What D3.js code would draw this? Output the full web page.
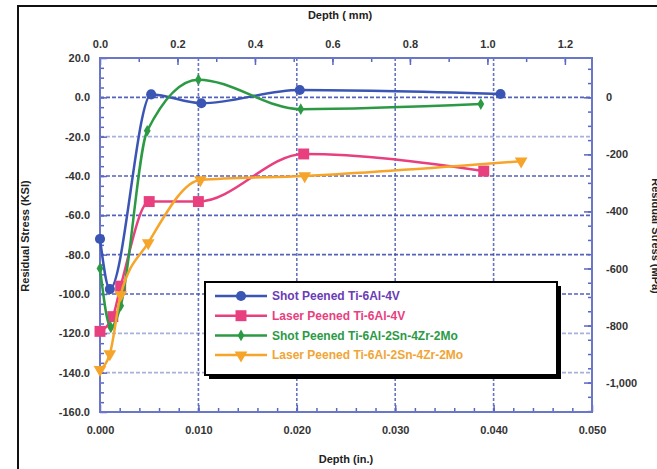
<!DOCTYPE html>
<html lang="en">
<head>
<meta charset="utf-8">
<title>Residual Stress vs Depth</title>
<style>
  body { margin: 0; background: #fff; }
  svg text { font-family: "Liberation Sans", Arial, sans-serif; font-weight: bold; }
  .axis text { font-size: 11px; fill: #333; }
  .axis line { stroke: #5a66c0; stroke-width: 1.5; }
  .axis path { display: none; }
</style>
</head>
<body>
<div id="chart"></div>
<script src="https://d3js.org/d3.v7.min.js"></script>
<script>
// depth (in.) and residual stress (ksi)
var seriesNames = ["Shot Peened Ti-6Al-4V", "Laser Peened Ti-6Al-4V",
                   "Shot Peened Ti-6Al-2Sn-4Zr-2Mo", "Laser Peened Ti-6Al-2Sn-4Zr-2Mo"];
var shotTi64Depth  = [0, 0.001, 0.0052, 0.0103, 0.0203, 0.0407];
var shotTi64Stress = [-72, -97.5, 1.5, -3, 3.7, 1.7];
var laserTi64Depth  = [0, 0.0013, 0.0021, 0.005, 0.010, 0.0207, 0.039];
var laserTi64Stress = [-119, -111.5, -96, -53, -53, -28.8, -37.5];
var shotTi6242Depth  = [0, 0.0011, 0.0021, 0.0048, 0.010, 0.0204, 0.0387];
var shotTi6242Stress = [-87, -117, -106, -17, 9, -6, -3.4];
var laserTi6242Depth  = [0, 0.001, 0.0021, 0.0049, 0.0102, 0.0208, 0.0428];
var laserTi6242Stress = [-138.5, -130.5, -100.5, -74, -42, -40, -32.5];

var bottomTicks = [0, 0.01, 0.02, 0.03, 0.04, 0.05];
var topTicks = [0, 0.2, 0.4, 0.6, 0.8, 1.0, 1.2];
var leftTicks = [-160, -140, -120, -100, -80, -60, -40, -20, 0, 20];
var rightTicks = [-1000, -800, -600, -400, -200, 0];

var colors = ["#3a55b4", "#e8407f", "#2c9a45", "#f6a52b"];
var textColors = ["#6a3cb6", "#e8407f", "#2c9a45", "#f0a535"];
var symbols = [d3.symbolCircle, d3.symbolSquare, d3.symbolDiamond, d3.symbolTriangle];
var symbolSizes = [80, 120, 40, 70];

var series = [
  { depth: shotTi64Depth, stress: shotTi64Stress },
  { depth: laserTi64Depth, stress: laserTi64Stress },
  { depth: shotTi6242Depth, stress: shotTi6242Stress },
  { depth: laserTi6242Depth, stress: laserTi6242Stress }
].map(function(s, i) {
  return { name: seriesNames[i], i: i,
           values: s.depth.map(function(d, k) { return { x: d, y: s.stress[k] }; }) };
});

var W = 657, H = 469;
var margin = { left: 100, right: 65, top: 58, bottom: 57 };
var KSI_TO_MPA = 6.895, IN_TO_MM = 25.4;

var svg = d3.select("#chart").append("svg").attr("width", W).attr("height", H);

// outer frame
svg.append("rect").attr("x", 18).attr("y", 6).attr("width", 700).attr("height", 500)
  .attr("fill", "none").attr("stroke", "#111").attr("stroke-width", 2);

var x = d3.scaleLinear().domain([0, 0.05]).range([margin.left, W - margin.right]);
var y = d3.scaleLinear().domain([-160, 20]).range([H - margin.bottom, margin.top]);
var xmm = d3.scaleLinear().domain([0, 0.05 * IN_TO_MM]).range(x.range());
var ympa = d3.scaleLinear().domain([-160 * KSI_TO_MPA, 20 * KSI_TO_MPA]).range(y.range());

var x0 = x.range()[0], x1 = x.range()[1], yb = y.range()[0], yt = y.range()[1];

// grid
var lightGrid = [-20, -120, -140];
svg.append("g").selectAll("line").data(leftTicks.filter(function(d) { return d > -160 && d < 20; }))
  .enter().append("line")
    .attr("x1", x0).attr("x2", x1)
    .attr("y1", function(d) { return y(d); }).attr("y2", function(d) { return y(d); })
    .attr("stroke", "#4152b0")
    .attr("stroke-opacity", function(d) { return lightGrid.indexOf(d) >= 0 ? 0.45 : 0.9; })
    .attr("stroke-width", 1.6).attr("stroke-dasharray", "4,2");
svg.append("g").selectAll("line").data(bottomTicks.slice(1, -1))
  .enter().append("line")
    .attr("x1", function(d) { return x(d); }).attr("x2", function(d) { return x(d); })
    .attr("y1", yt).attr("y2", yb)
    .attr("stroke", "#4152b0").attr("stroke-opacity", 0.8)
    .attr("stroke-width", 1.6).attr("stroke-dasharray", "3,2");

// axes
function fmtMinus(s) { return s.replace("\u2212", "-"); }

svg.append("g").attr("class", "axis").attr("transform", "translate(" + x0 + ",0)")
  .call(d3.axisLeft(y).tickValues(leftTicks).tickSizeInner(-7).tickSizeOuter(0).tickPadding(10)
    .tickFormat(function(d) { return d.toFixed(1); }));
svg.append("g").attr("class", "axis").attr("transform", "translate(" + x0 + ",0)")
  .call(d3.axisLeft(y).tickValues(d3.range(-155, 20, 5)).tickSizeInner(-4).tickSizeOuter(0).tickFormat(""));

svg.append("g").attr("class", "axis").attr("transform", "translate(0," + yb + ")")
  .call(d3.axisBottom(x).tickValues(bottomTicks).tickSizeInner(-7).tickSizeOuter(0).tickPadding(14)
    .tickFormat(d3.format(".3f")));
svg.append("g").attr("class", "axis").attr("transform", "translate(0," + yb + ")")
  .call(d3.axisBottom(x).tickValues(d3.range(0.002, 0.05, 0.002)).tickSizeInner(-4).tickSizeOuter(0).tickFormat(""));

svg.append("g").attr("class", "axis").attr("transform", "translate(0," + yt + ")")
  .call(d3.axisTop(xmm).tickValues(topTicks).tickSizeInner(-7).tickSizeOuter(0).tickPadding(10)
    .tickFormat(d3.format(".1f")));
svg.append("g").attr("class", "axis").attr("transform", "translate(0," + yt + ")")
  .call(d3.axisTop(xmm).tickValues(d3.range(0.1, 1.27, 0.1)).tickSizeInner(-4).tickSizeOuter(0).tickFormat(""));

svg.append("g").attr("class", "axis").attr("transform", "translate(" + x1 + ",0)")
  .call(d3.axisRight(ympa).tickValues(rightTicks).tickSizeInner(-8).tickSizeOuter(0).tickPadding(14)
    .tickFormat(function(d) { return fmtMinus(d3.format(",")(d)); }));
svg.append("g").attr("class", "axis").attr("transform", "translate(" + x1 + ",0)")
  .call(d3.axisRight(ympa).tickValues(d3.range(-1100, 101, 50)).tickSizeInner(-4).tickSizeOuter(0).tickFormat(""));

// plot border
svg.append("rect").attr("x", x0).attr("y", yt).attr("width", x1 - x0).attr("height", yb - yt)
  .attr("fill", "none").attr("stroke", "#6a76c8").attr("stroke-width", 2);

// axis titles
svg.append("text").attr("x", 340).attr("y", 19).attr("text-anchor", "middle")
  .attr("font-size", 11).attr("fill", "#222").text("Depth ( mm)");
svg.append("text").attr("x", 346).attr("y", 463).attr("text-anchor", "middle")
  .attr("font-size", 11).attr("fill", "#222").text("Depth (in.)");
svg.append("text").attr("transform", "translate(29,236) rotate(-90)").attr("text-anchor", "middle")
  .attr("font-size", 11).attr("fill", "#222").text("Residual Stress (KSI)");
svg.append("text").attr("transform", "translate(652,236) rotate(90)").attr("text-anchor", "middle")
  .attr("font-size", 11).attr("fill", "#222").text("Residual Stress (MPa)");

// lines and markers
var line = d3.line().x(function(d) { return x(d.x); }).y(function(d) { return y(d.y); })
  .curve(d3.curveMonotoneX);

var g = svg.append("g").selectAll("g").data(series).enter().append("g");
g.append("path")
  .attr("d", function(s) { return line(s.values); })
  .attr("fill", "none").attr("stroke", function(s) { return colors[s.i]; }).attr("stroke-width", 2.5);
g.selectAll("path.m").data(function(s) { return s.values.map(function(v) { return { v: v, i: s.i }; }); })
  .enter().append("path").attr("class", "m")
    .attr("transform", function(d) {
      return "translate(" + x(d.v.x) + "," + y(d.v.y) + ")" + (d.i === 3 ? " rotate(180)" : "");
    })
    .attr("d", function(d) { return d3.symbol().type(symbols[d.i]).size(symbolSizes[d.i])(); })
    .attr("fill", function(d) { return colors[d.i]; });

// legend
var lg = svg.append("g").attr("transform", "translate(205,282)");
lg.append("rect").attr("x", 4).attr("y", 4).attr("width", 352).attr("height", 93).attr("fill", "#000");
lg.append("rect").attr("width", 352).attr("height", 93).attr("fill", "#fff")
  .attr("stroke", "#000").attr("stroke-width", 2);
var item = lg.selectAll("g.item").data(series).enter().append("g").attr("class", "item")
  .attr("transform", function(s, i) { return "translate(0," + (14 + i * 19.7) + ")"; });
item.append("line").attr("x1", 10).attr("x2", 62)
  .attr("stroke", function(s) { return colors[s.i]; }).attr("stroke-width", 2.5);
item.append("path")
  .attr("transform", function(s) { return "translate(36,0)" + (s.i === 3 ? " rotate(180)" : ""); })
  .attr("d", function(s) { return d3.symbol().type(symbols[s.i]).size(symbolSizes[s.i])(); })
  .attr("fill", function(s) { return colors[s.i]; });
item.append("text").attr("x", 67).attr("dy", "0.35em").attr("font-size", 12)
  .attr("fill", function(s) { return textColors[s.i]; }).text(function(s) { return s.name; });
</script>
</body>
</html>
